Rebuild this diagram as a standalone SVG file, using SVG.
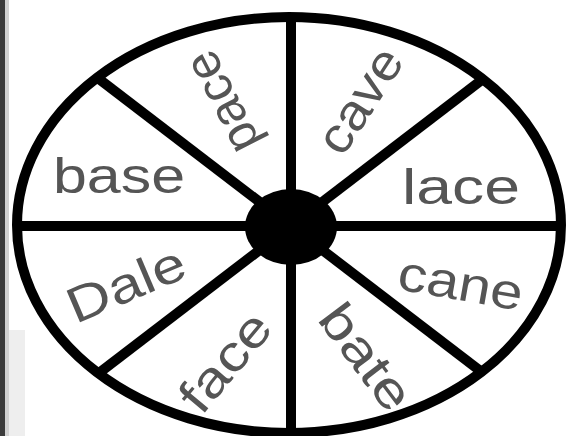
<svg xmlns="http://www.w3.org/2000/svg" width="568" height="436" viewBox="0 0 568 436">
<style>
.w{font-family:"Liberation Sans","DejaVu Sans",Arial,sans-serif;font-size:50px;fill:#555;text-anchor:middle}
.ln{stroke:#000;stroke-width:10;fill:none;stroke-linecap:butt}
</style>
<rect width="568" height="436" fill="#fff"/>
<rect x="0" y="0" width="5" height="436" fill="#3c3c3c"/>
<rect x="5" y="0" width="4" height="436" fill="#d2d2d2"/>
<rect x="9" y="330" width="16" height="106" fill="#eeeeee"/>
<g id="connectors">
<line class="ln" x1="291" y1="17" x2="291" y2="436"/>
<line class="ln" x1="17" y1="226" x2="563" y2="226"/>
<line class="ln" x1="99" y1="79" x2="483" y2="373"/>
<line class="ln" x1="483" y1="79" x2="99" y2="373"/>
</g>
<g id="rim"><ellipse class="ln" cx="289" cy="225" rx="272" ry="208"/></g>
<g id="hub"><ellipse cx="291" cy="227" rx="46" ry="38" fill="#000"/></g>
<g id="w-pace"><text class="w" transform="translate(226,100) rotate(-117)" y="12" textLength="108" lengthAdjust="spacingAndGlyphs">pace</text></g>
<g id="w-cave"><text class="w" transform="translate(364,103) rotate(-57)" y="12" textLength="116" lengthAdjust="spacingAndGlyphs">cave</text></g>
<g id="w-base"><text class="w" x="119" y="193" textLength="132" lengthAdjust="spacingAndGlyphs">base</text></g>
<g id="w-lace"><text class="w" x="461" y="204" textLength="118" lengthAdjust="spacingAndGlyphs">lace</text></g>
<g id="w-Dale"><text class="w" transform="translate(128,289) rotate(-23)" y="12" textLength="124" lengthAdjust="spacingAndGlyphs">Dale</text></g>
<g id="w-cane"><text class="w" transform="translate(460,288) rotate(10)" y="12" textLength="126" lengthAdjust="spacingAndGlyphs">cane</text></g>
<g id="w-face"><text class="w" transform="translate(229,365) rotate(-50)" y="12" textLength="114" lengthAdjust="spacingAndGlyphs">face</text></g>
<g id="w-bate"><text class="w" transform="translate(362,360) rotate(53)" y="12" textLength="120" lengthAdjust="spacingAndGlyphs">bate</text></g>
</svg>
